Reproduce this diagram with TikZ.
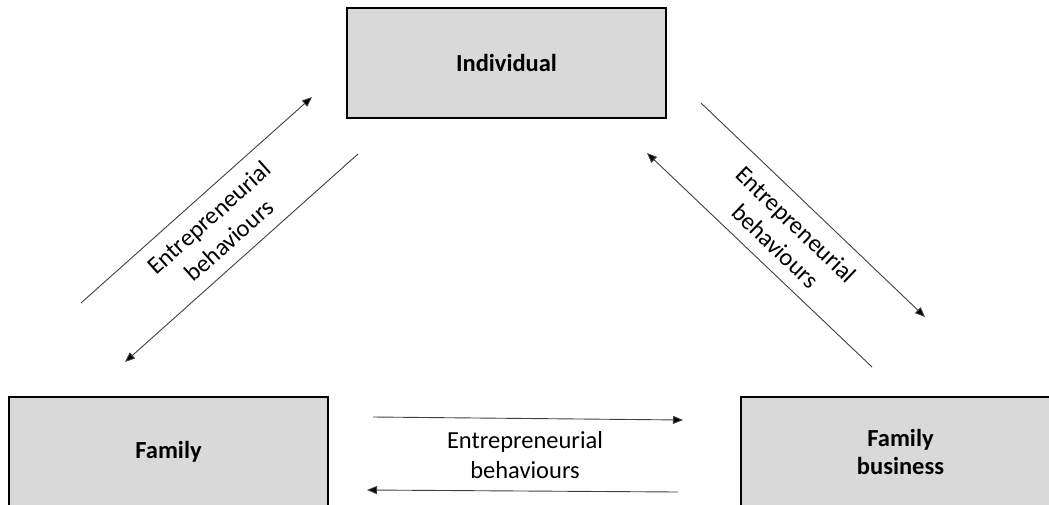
\documentclass[tikz,border=0pt]{standalone}
\usepackage{fontspec}
\setmainfont{Carlito}
\usetikzlibrary{arrows.meta}
\definecolor{boxgray}{HTML}{D9D9D9}
\definecolor{linegray}{HTML}{404040}
\begin{document}
\begin{tikzpicture}[x=1pt,y=-1pt,
  box/.style={draw=black, line width=1.4pt, fill=boxgray,
    minimum width=319pt, minimum height=110pt, inner sep=0pt,
    font=\fontsize{24.5}{28}\selectfont\bfseries, align=center},
  flow/.style={draw=linegray, line width=0.9pt,
    -{Triangle[length=10pt,width=8pt,fill=black]}},
  lbl/.style={font=\fontsize{24.5}{30}\selectfont, align=center, inner sep=0pt}]
  \useasboundingbox (0,0) rectangle (1049,504);
  \clip (0,0) rectangle (1049,504);

  % the three actors
  \node[box] (ind) at (506.5,63) {Individual};
  \node[box] (fam) at (168.5,452) {Family};
  \node[box] (fb)  at (900.5,452) {Family\\business};

  % end points of the paired flows
  \coordinate (l1s) at (81,303);  \coordinate (l1e) at (312,97);
  \coordinate (l2s) at (358,154); \coordinate (l2e) at (125,362);
  \coordinate (r1s) at (701,103); \coordinate (r1e) at (925,317);
  \coordinate (r2s) at (872,367); \coordinate (r2e) at (647,153);
  \coordinate (b1s) at (373,417); \coordinate (b1e) at (683,420);
  \coordinate (b2s) at (678,492); \coordinate (b2e) at (367,490);

  \draw[flow] (l1s) -- (l1e);
  \draw[flow] (l2s) -- (l2e);
  \draw[flow] (r1s) -- (r1e);
  \draw[flow] (r2s) -- (r2e);
  \draw[flow] (b1s) -- (b1e);
  \draw[flow] (b2s) -- (b2e);

  % labels between each pair of flows
  \node[lbl, rotate=41.7] (ll) at (219,229) {Entrepreneurial\\behaviours};
  \node[lbl, rotate=-43.7] (rl) at (786,235) {Entrepreneurial\\behaviours};
  \node[lbl] (bl) at (525,455) {Entrepreneurial\\behaviours};
\end{tikzpicture}
\end{document}
